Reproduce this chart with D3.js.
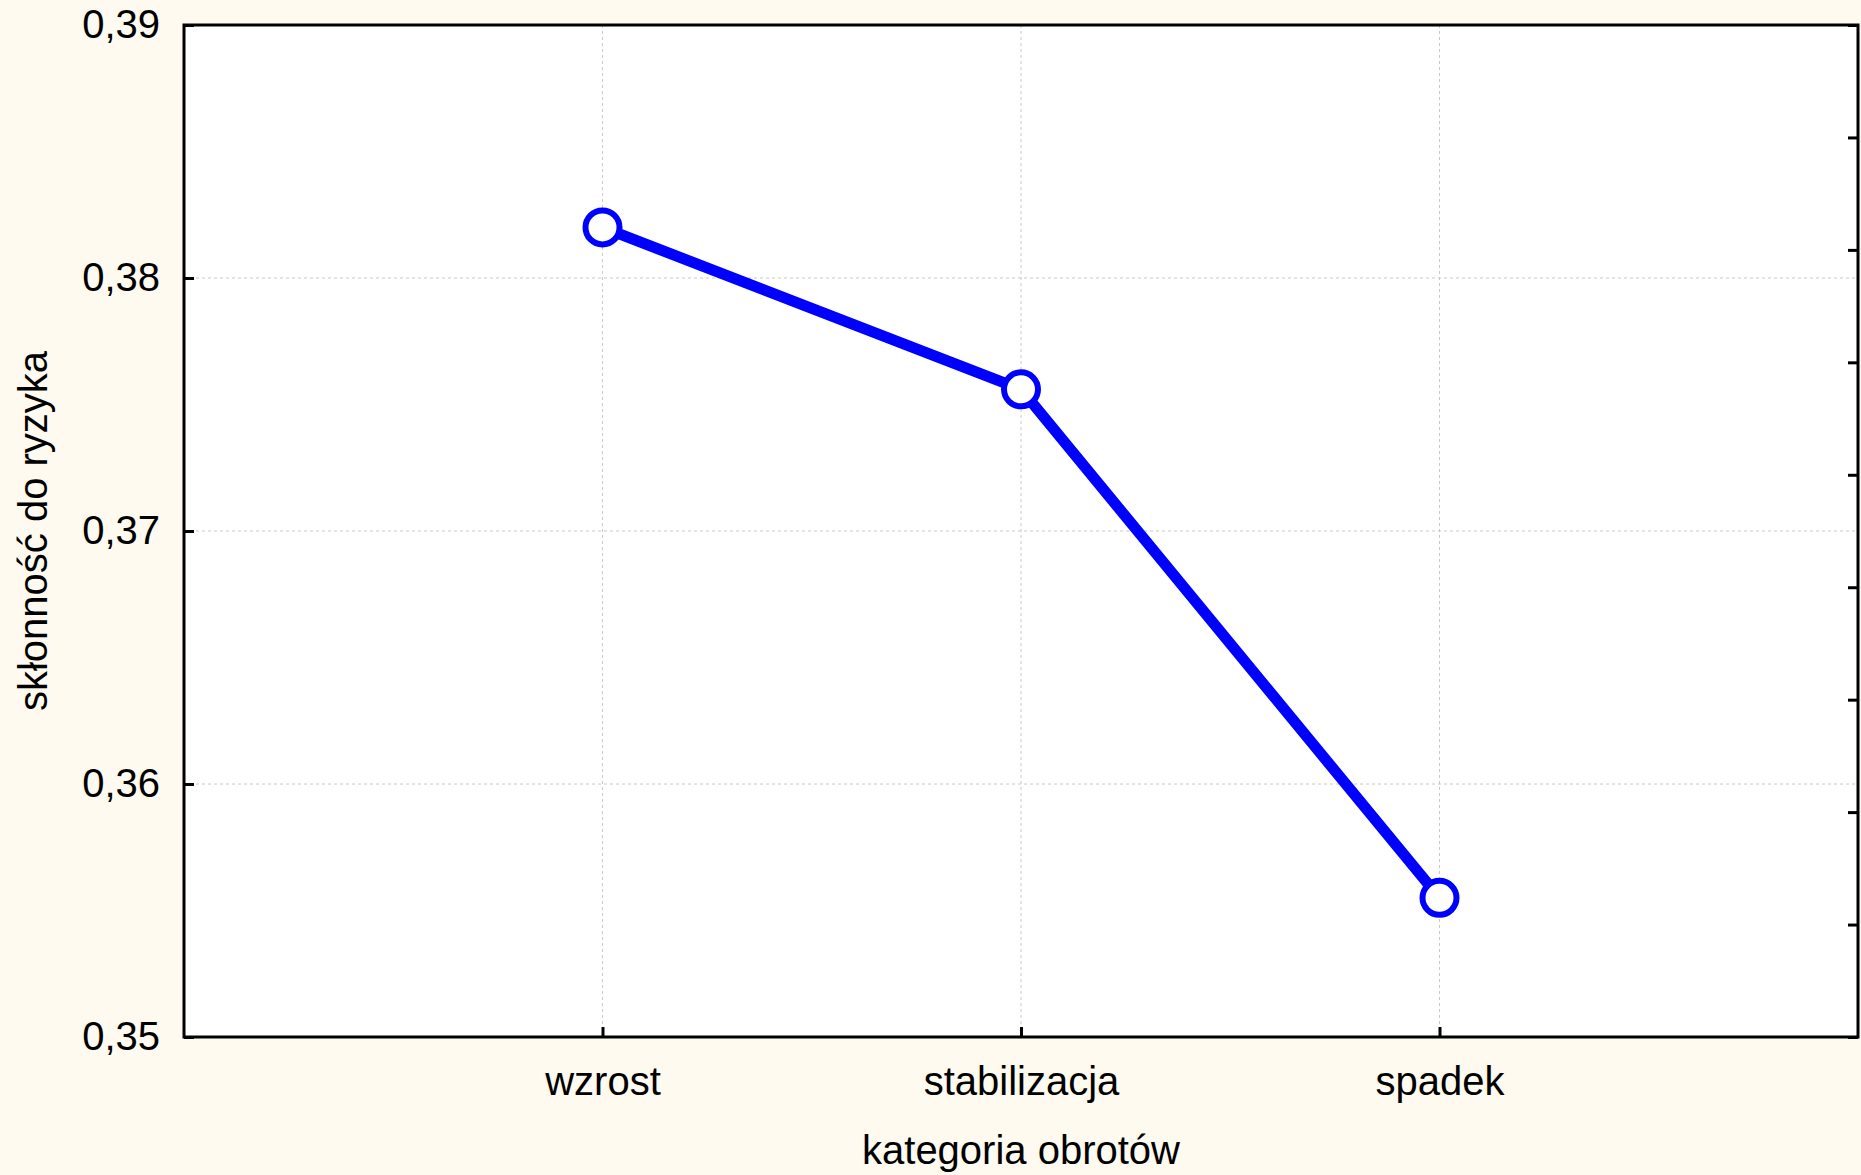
<!DOCTYPE html>
<html>
<head>
<meta charset="utf-8">
<script src="https://cdn.jsdelivr.net/npm/d3@7"></script>
<style>
  html, body { margin: 0; padding: 0; background: #fefaef; }
  text { font-family: 'Liberation Sans', Arial, sans-serif; fill: #000; }
</style>
</head>
<body>
<svg id="chart" width="1861" height="1175"></svg>
<script>
// dane
const categories = ['wzrost', 'stabilizacja', 'spadek'];
const values = [0.3820, 0.3756, 0.3555];
const yTicks = [0.35, 0.36, 0.37, 0.38, 0.39];
const xTitle = 'kategoria obrotów';
const yTitle = 'skłonność do ryzyka';

const svg = d3.select('#chart');
const margin = { top: 25, right: 3, bottom: 138, left: 184 };
const width = +svg.attr('width') - margin.left - margin.right;
const height = +svg.attr('height') - margin.top - margin.bottom;
const fontSize = 40;

const pl = d3.formatLocale({ decimal: ',', thousands: ' ', grouping: [3], currency: ['', ' zł'] });
const fmt = pl.format('.2f');

svg.append('rect')
  .attr('width', +svg.attr('width'))
  .attr('height', +svg.attr('height'))
  .attr('fill', '#fefaef');

const g = svg.append('g').attr('transform', `translate(${margin.left},${margin.top})`);

g.append('rect')
  .attr('width', width)
  .attr('height', height)
  .attr('fill', '#fff');

const x = d3.scalePoint()
  .domain(categories)
  .range([0, width])
  .padding(1);

const y = d3.scaleLinear()
  .domain([0.35, 0.39])
  .range([height, 0]);

// siatka
g.append('g')
  .selectAll('line')
  .data(yTicks.slice(1, -1))
  .enter().append('line')
  .attr('x1', 0)
  .attr('x2', width)
  .attr('y1', d => y(d))
  .attr('y2', d => y(d))
  .attr('stroke', '#c8c8c8')
  .attr('stroke-width', 1)
  .attr('stroke-dasharray', '3,3');

g.append('g')
  .selectAll('line')
  .data(categories)
  .enter().append('line')
  .attr('x1', d => x(d))
  .attr('x2', d => x(d))
  .attr('y1', 0)
  .attr('y2', height)
  .attr('stroke', '#c8c8c8')
  .attr('stroke-width', 1)
  .attr('stroke-dasharray', '3,3');

// osie
const yAxis = g.append('g')
  .call(d3.axisLeft(y).tickValues(yTicks).tickSize(-10).tickPadding(24).tickFormat(fmt));
yAxis.select('.domain').remove();
yAxis.selectAll('line').attr('stroke', '#000').attr('stroke-width', 3);
yAxis.selectAll('text').attr('font-size', fontSize).attr('fill', '#000')
  .attr('font-family', "'Liberation Sans', Arial, sans-serif");

const rightTicks = d3.range(0, 10).map(i => 0.35 + (i * 0.04) / 9);
const rAxis = g.append('g')
  .attr('transform', `translate(${width},0)`)
  .call(d3.axisRight(y).tickValues(rightTicks).tickSize(-10).tickFormat(''));
rAxis.select('.domain').remove();
rAxis.selectAll('line').attr('stroke', '#000').attr('stroke-width', 3);

const xAxis = g.append('g')
  .attr('transform', `translate(0,${height})`)
  .call(d3.axisBottom(x).tickSize(-10).tickPadding(30));
xAxis.select('.domain').remove();
xAxis.selectAll('line').attr('stroke', '#000').attr('stroke-width', 3);
xAxis.selectAll('text').attr('font-size', fontSize).attr('fill', '#000')
  .attr('font-family', "'Liberation Sans', Arial, sans-serif");

// ramka
g.append('rect')
  .attr('width', width)
  .attr('height', height)
  .attr('fill', 'none')
  .attr('stroke', '#000')
  .attr('stroke-width', 3);

// seria
const line = d3.line()
  .x((d, i) => x(categories[i]))
  .y(d => y(d));

g.append('path')
  .datum(values)
  .attr('fill', 'none')
  .attr('stroke', '#0000ff')
  .attr('stroke-width', 11)
  .attr('stroke-linejoin', 'round')
  .attr('d', line);

g.selectAll('.pt')
  .data(values)
  .enter().append('circle')
  .attr('class', 'pt')
  .attr('cx', (d, i) => x(categories[i]))
  .attr('cy', d => y(d))
  .attr('r', 17)
  .attr('fill', '#fff')
  .attr('stroke', '#0000ff')
  .attr('stroke-width', 6);

// tytuly osi
svg.append('text')
  .attr('x', margin.left + width / 2)
  .attr('y', 1164)
  .attr('text-anchor', 'middle')
  .attr('font-size', fontSize)
  .text(xTitle);

svg.append('text')
  .attr('transform', `translate(47,${margin.top + height / 2}) rotate(-90)`)
  .attr('text-anchor', 'middle')
  .attr('font-size', fontSize)
  .text(yTitle);
</script>
</body>
</html>
